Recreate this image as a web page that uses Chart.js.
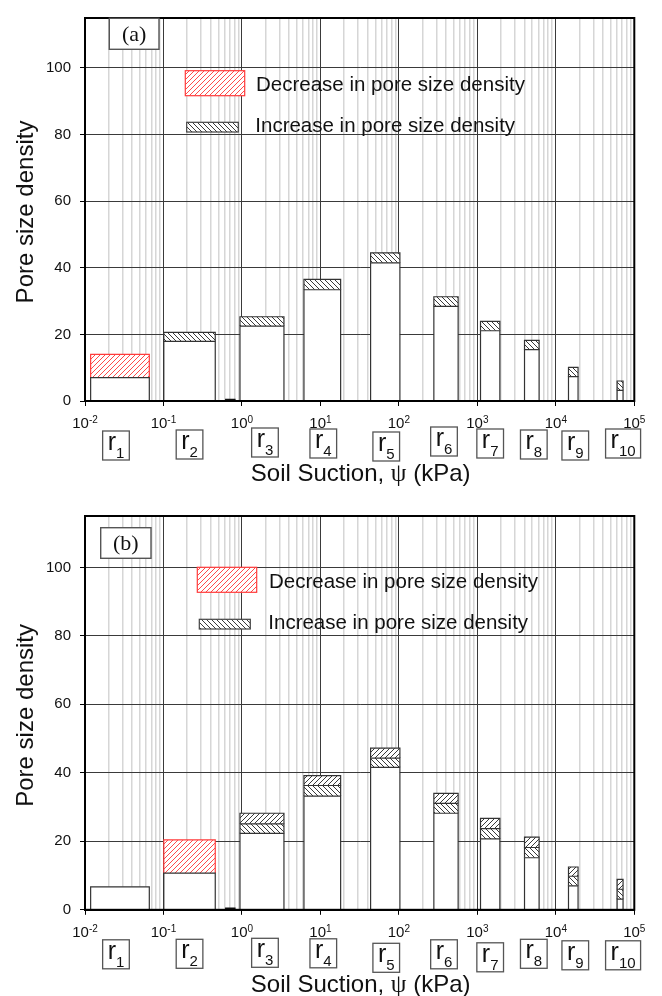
<!DOCTYPE html>
<html>
<head>
<meta charset="utf-8">
<script src="https://cdn.jsdelivr.net/npm/chart.js@4.4.1/dist/chart.umd.min.js"></script>
<style>
  html, body { margin: 0; padding: 0; background: #fff; }
  #wrap { position: relative; width: 662px; height: 996px; }
  canvas { position: absolute; left: 0; }
  #panelA { top: 0; }
  #panelB { top: 498px; }
</style>
</head>
<body>
<div id="wrap">
  <canvas id="panelA" width="662" height="498"></canvas>
  <canvas id="panelB" width="662" height="498"></canvas>
</div>
<script>
// ---- data -------------------------------------------------------------
// pore classes r1..r10 and the suction interval (kPa) each one covers
const poreClasses = ['1', '2', '3', '4', '5', '6', '7', '8', '9', '10'];
const suctionFrom = [0.0118, 0.101, 0.944, 6.17, 43.6, 279, 1097, 3990, 14500, 60400];
const suctionTo   = [0.066, 0.457, 3.43, 18.1, 103, 569, 1935, 6120, 19200, 71900];

// panel (a): current density and change (negative = decrease)
const densityA = [7.0, 17.9, 22.5, 33.4, 41.5, 28.4, 21.1, 15.4, 7.3, 3.2];
const changeA  = [-7.0, 2.7, 2.8, 3.1, 3.0, 2.9, 2.8, 2.8, 2.8, 2.8];

// panel (b): current density and two successive changes
const densityB = [6.7, 10.7, 22.3, 33.2, 41.6, 28.2, 20.7, 15.2, 7.0, 3.1];
const changeB1 = [0, -9.7, 2.8, 3.1, 2.7, 2.9, 3.0, 3.0, 2.8, 2.9];
const changeB2 = [0, 0, 3.1, 2.9, 2.9, 2.9, 3.0, 3.0, 2.7, 2.9];

// small residual density between r2 and r3
const residualFrom = [0.62];
const residualTo = [0.815];
const residualDensity = [0.5];

const decadeExponents = [-2, -1, 0, 1, 2, 3, 4, 5];
const densityTicks = [0, 20, 40, 60, 80, 100];
const legendLabels = ['Decrease in pore size density', 'Increase in pore size density'];

// ---- styling ----------------------------------------------------------
const SANS = '"Liberation Sans", Arial, sans-serif';
const SERIF = '"Liberation Serif", "Times New Roman", serif';
const labelNudge = [-4, 0, 3, 1, 1, -2, 0, 2, 2, 3];

function hatch(ctx, dir, color) {
  const s = 5;
  const c = document.createElement('canvas');
  c.width = s; c.height = s;
  const g = c.getContext('2d');
  g.fillStyle = '#fff';
  g.fillRect(0, 0, s, s);
  g.strokeStyle = color;
  g.lineWidth = 1;
  g.beginPath();
  if (dir === '/') {
    g.moveTo(-1, s + 1); g.lineTo(s + 1, -1);
    g.moveTo(-1, 1); g.lineTo(1, -1);
    g.moveTo(s - 1, s + 1); g.lineTo(s + 1, s - 1);
  } else {
    g.moveTo(-1, -1); g.lineTo(s + 1, s + 1);
    g.moveTo(s - 1, -1); g.lineTo(s + 1, 1);
    g.moveTo(-1, s - 1); g.lineTo(1, s + 1);
  }
  g.stroke();
  return ctx.createPattern(c, 'repeat');
}

function isDecade(v) {
  const l = Math.log10(v);
  return Math.abs(l - Math.round(l)) < 1e-9;
}

function rect(x0, x1, y0, y1, fill, stroke) {
  return {
    data: [{ x: x0, y: y0 }, { x: x0, y: y1 }, { x: x1, y: y1 }, { x: x1, y: y0 }],
    showLine: true,
    fill: y0 === 0 ? 'origin' : { value: y0 },
    backgroundColor: fill,
    borderColor: stroke,
    borderWidth: 1.2,
    pointRadius: 0,
    tension: 0
  };
}

function buildDatasets(ctx, base, changes) {
  const red = hatch(ctx, '/', '#ff4a4a');
  const inc = hatch(ctx, '\\', '#3a3a3a');
  const inc2 = hatch(ctx, '/', '#3a3a3a');
  const sets = [];
  poreClasses.forEach((c, i) => {
    sets.push(rect(suctionFrom[i], suctionTo[i], 0, base[i], '#fff', '#333'));
    let y = base[i];
    changes.forEach((arr, k) => {
      const d = arr[i];
      if (!d) return;
      const top = y + Math.abs(d);
      const fill = d < 0 ? red : (k === 0 ? inc : inc2);
      sets.push(rect(suctionFrom[i], suctionTo[i], y, top, fill, d < 0 ? '#ff3b3b' : '#333'));
      y = top;
    });
  });
  residualFrom.forEach((f, i) => {
    sets.push(rect(f, residualTo[i], 0, residualDensity[i], '#111', '#111'));
  });
  return { sets, red, inc };
}

// ---- annotations: frame, decade labels, class boxes, titles, legend ----
const decor = {
  id: 'poreDecor',
  afterDraw(chart, args, o) {
    const { ctx, chartArea: ca } = chart;
    const x = chart.scales.x;
    ctx.save();

    ctx.strokeStyle = '#000';
    ctx.lineWidth = 2;
    ctx.strokeRect(ca.left, ca.top, ca.right - ca.left, ca.bottom - ca.top);

    // decade tick labels 10^n
    ctx.fillStyle = '#111';
    ctx.textBaseline = 'alphabetic';
    ctx.textAlign = 'left';
    decadeExponents.forEach(e => {
      const px = x.getPixelForValue(Math.pow(10, e));
      ctx.font = '15px ' + SANS;
      const w1 = ctx.measureText('10').width;
      ctx.font = '10px ' + SANS;
      const w2 = ctx.measureText(String(e)).width;
      const sx = px - (w1 + w2) / 2;
      ctx.font = '15px ' + SANS;
      ctx.fillText('10', sx, ca.bottom + 27);
      ctx.font = '10px ' + SANS;
      ctx.fillText(String(e), sx + w1, ca.bottom + 22);
    });

    // pore class boxes r1..r10
    poreClasses.forEach((c, i) => {
      const cx = (x.getPixelForValue(suctionFrom[i]) + x.getPixelForValue(suctionTo[i])) / 2 + labelNudge[i];
      ctx.font = '25px ' + SANS;
      const wr = ctx.measureText('r').width;
      ctx.font = '15px ' + SANS;
      const ws = ctx.measureText(c).width;
      const bw = wr + ws + 10, bh = 29;
      const top = ca.bottom + o.boxDrop[i];
      const left = cx - bw / 2;
      ctx.fillStyle = '#fff';
      ctx.fillRect(left, top, bw, bh);
      ctx.strokeStyle = '#555';
      ctx.lineWidth = 1.3;
      ctx.strokeRect(left, top, bw, bh);
      ctx.fillStyle = '#111';
      ctx.font = '25px ' + SANS;
      ctx.fillText('r', left + 5, top + 19);
      ctx.font = '15px ' + SANS;
      ctx.fillText(c, left + 5 + wr, top + 27);
    });

    // x axis title
    const parts = [['Soil Suction, ', '24px ' + SANS], ['\u03C8', '25px ' + SERIF], [' (kPa)', '24px ' + SANS]];
    let total = 0;
    parts.forEach(p => { ctx.font = p[1]; total += ctx.measureText(p[0]).width; });
    let tx = (ca.left + ca.right) / 2 - total / 2 + 1;
    ctx.textBaseline = 'middle';
    parts.forEach(p => { ctx.font = p[1]; ctx.fillText(p[0], tx, ca.bottom + o.titleDrop); tx += ctx.measureText(p[0]).width; });

    // y axis title
    ctx.save();
    ctx.translate(26, (ca.top + ca.bottom) / 2 + 2.5);
    ctx.rotate(-Math.PI / 2);
    ctx.textAlign = 'center';
    ctx.font = '24px ' + SANS;
    ctx.fillText('Pore size density', 0, 0);
    ctx.restore();

    // panel tag
    const tb = o.tagBox;
    ctx.fillStyle = '#fff';
    ctx.fillRect(tb[0], tb[1], tb[2], tb[3]);
    ctx.strokeStyle = '#555';
    ctx.lineWidth = 1.4;
    ctx.strokeRect(tb[0], tb[1], tb[2], tb[3]);
    ctx.fillStyle = '#111';
    ctx.textAlign = 'center';
    ctx.font = '22px ' + SERIF;
    ctx.fillText(o.tag, tb[0] + tb[2] / 2, tb[1] + tb[3] / 2 + 1);

    // legend
    const fills = [chart.$patterns.red, chart.$patterns.inc];
    const strokes = ['#ff3b3b', '#444'];
    o.legendRects.forEach((r, k) => {
      ctx.fillStyle = fills[k];
      ctx.fillRect(r[0], r[1], r[2], r[3]);
      ctx.strokeStyle = strokes[k];
      ctx.lineWidth = 1.2;
      ctx.strokeRect(r[0], r[1], r[2], r[3]);
      ctx.fillStyle = '#111';
      ctx.textAlign = 'left';
      ctx.font = '20.5px ' + SANS;
      ctx.fillText(legendLabels[k], o.legendText[k][0], o.legendText[k][1]);
    });

    ctx.restore();
  }
};

const panels = [
  {
    canvas: 'panelA', tag: '(a)', base: densityA, changes: [changeA],
    padTop: 6, axisH: 97, titleDrop: 73,
    tagBox: [109.3, 18.3, 49.7, 31],
    legendRects: [[185.3, 70.7, 59.4, 25], [186.7, 122.3, 51.6, 9.7]],
    legendText: [[256, 85], [255.3, 126.7]],
    boxDrop: [30, 29, 27, 28, 31, 26, 28, 29, 30, 28]
  },
  {
    canvas: 'panelB', tag: '(b)', base: densityB, changes: [changeB1, changeB2],
    padTop: 18, axisH: 86.2, titleDrop: 76,
    tagBox: [100.7, 29.7, 50.3, 30.6],
    legendRects: [[197.3, 69.3, 59.4, 25], [199.3, 121.3, 51, 9.7]],
    legendText: [[269, 84], [268.3, 125.3]],
    boxDrop: [30, 29.5, 28.5, 29, 33.5, 30, 33, 29.5, 31, 31]
  }
];

panels.forEach(p => {
  const canvas = document.getElementById(p.canvas);
  const ctx = canvas.getContext('2d');
  const built = buildDatasets(ctx, p.base, p.changes);
  new Chart(canvas, {
    type: 'scatter',
    data: { datasets: built.sets },
    options: {
      responsive: false,
      animation: false,
      events: [],
      layout: { padding: { left: 0, right: 27.7, top: p.padTop, bottom: 0 } },
      plugins: { legend: { display: false }, tooltip: { enabled: false }, poreDecor: p },
      scales: {
        x: {
          type: 'logarithmic',
          min: 0.01,
          max: 1e5,
          afterBuildTicks(s) {
            const t = [];
            for (let e = -2; e < 5; e++) {
              for (let m = 1; m <= 9; m++) t.push({ value: m * Math.pow(10, e), major: m === 1 });
            }
            t.push({ value: 1e5, major: true });
            s.ticks = t;
          },
          afterFit(s) { s.height = p.axisH; },
          ticks: { display: false },
          grid: {
            color: c => (c.tick && isDecade(c.tick.value)) ? '#3a3a3a' : '#d6d6d6',
            lineWidth: c => (c.tick && isDecade(c.tick.value)) ? 1 : 1.5,
            drawTicks: true,
            tickLength: 5,
            tickColor: c => (c.tick && isDecade(c.tick.value)) ? '#000' : 'rgba(0,0,0,0)'
          },
          border: { color: '#000', width: 2 }
        },
        y: {
          min: 0,
          max: 115,
          afterBuildTicks(s) { s.ticks = densityTicks.map(v => ({ value: v })); },
          afterFit(s) { s.width = 85; },
          ticks: { font: { family: SANS, size: 15 }, color: '#111', padding: 9 },
          grid: { color: '#3a3a3a', lineWidth: 1, tickLength: 5, tickColor: '#000' },
          border: { color: '#000', width: 2 }
        }
      }
    },
    plugins: [{
      id: 'patternStore',
      beforeInit(ch) { ch.$patterns = { red: built.red, inc: built.inc }; }
    }, decor]
  });
});
</script>
</body>
</html>
